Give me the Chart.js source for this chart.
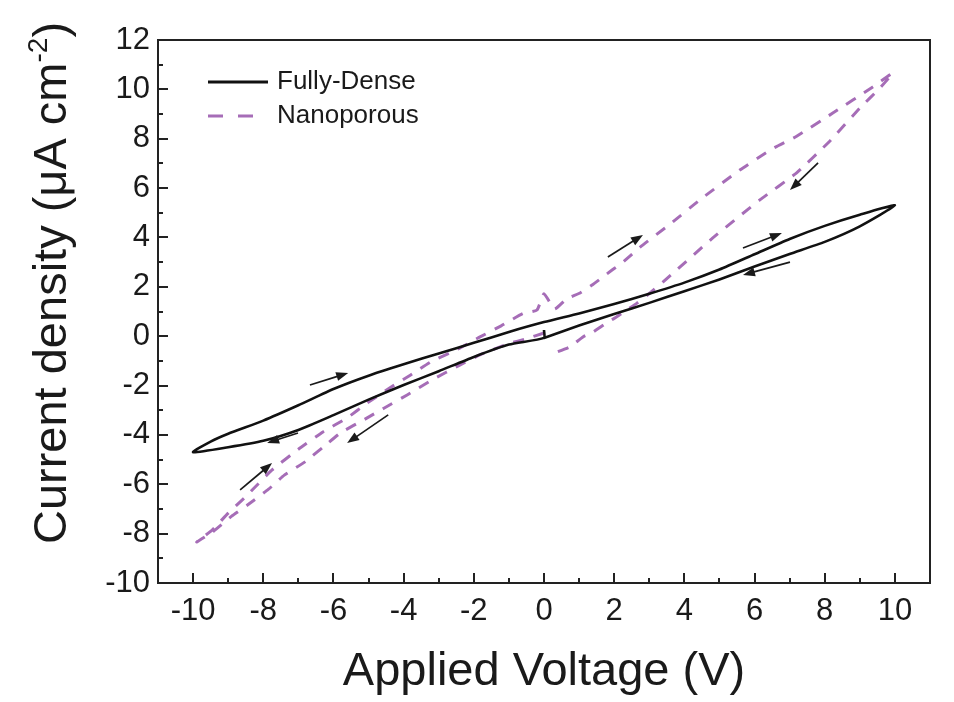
<!DOCTYPE html>
<html>
<head>
<meta charset="utf-8">
<script src="https://cdn.jsdelivr.net/npm/chart.js@4.4.0/dist/chart.umd.min.js"></script>
<style>
    html, body { margin: 0; padding: 0; background: #ffffff; }
    #chart-container { width: 954px; height: 702px; position: relative; }
</style>
</head>
<body>
<div id="chart-container"><canvas id="iv-chart"></canvas></div>
<script>
const xTickValues = [-10, -8, -6, -4, -2, 0, 2, 4, 6, 8, 10];
const yTickValues = [-10, -8, -6, -4, -2, 0, 2, 4, 6, 8, 10, 12];
const xMinorValues = [-9, -7, -5, -3, -1, 1, 3, 5, 7, 9];
const yMinorValues = [-9, -7, -5, -3, -1, 1, 3, 5, 7, 9, 11];

const seriesNames = ['Fully-Dense', 'Nanoporous'];

// Fully-Dense sweep: 0 -> -10 -> 0 -> +10 -> 0
const denseV = [0, 0, -1, -2, -3, -4, -5, -6, -7, -8, -9, -10,
    -9.5, -9, -8, -7, -6, -5, -4, -3, -2, -1, 0,
    1, 2, 3, 4, 5, 6, 7, 8, 9, 10,
    9, 8, 7, 6, 5, 4, 3, 2, 1, 0];
const denseI = [0.25, -0.07, -0.34, -0.84, -1.42, -1.98, -2.57, -3.2, -3.8, -4.24, -4.5, -4.7,
    -4.27, -3.95, -3.42, -2.8, -2.14, -1.6, -1.14, -0.7, -0.27, 0.17, 0.57,
    0.92, 1.3, 1.72, 2.17, 2.7, 3.32, 3.94, 4.47, 4.92, 5.3,
    4.45, 3.82, 3.33, 2.82, 2.3, 1.82, 1.35, 0.9, 0.43, -0.07];

// Nanoporous sweep, same order
const poreV = [0, -0.5, -1, -1.8, -2.4, -3.2, -3.9, -4.55, -5.1, -5.8, -6.3, -6.8, -7.4, -7.85, -8.45, -8.9, -9.45, -9.9,
    -9.45, -9, -8.5, -7.75, -7, -6.3, -5.6, -5.05, -4.4, -3.8, -3.2, -2.5, -1.85, -1.22, -0.6, -0.2, 0, 0.3,
    0.65, 1.03, 1.37, 1.65, 1.94, 2.22, 2.74, 3.6, 4.44, 5.58, 6.52, 7.2, 8.23, 9.37, 9.94,
    9.57, 9, 8.12, 7.2, 6.15, 4.81, 3.5, 3.02, 2.65, 2.36, 2.02, 1.74, 1.4, 1.11, 0.74, 0.3];
const poreI = [0.13, -0.1, -0.3, -0.74, -1.17, -1.78, -2.38, -2.91, -3.36, -3.92, -4.5, -5.08, -5.63, -6.2, -6.84, -7.29, -7.94, -8.34,
    -7.85, -7.17, -6.5, -5.42, -4.58, -3.88, -3.3, -2.72, -2.1, -1.57, -1.02, -0.56, -0.05, 0.42, 0.92, 1.06, 1.72, 1.1,
    1.52, 1.75, 2.07, 2.37, 2.68, 2.96, 3.61, 4.55, 5.52, 6.73, 7.6, 8.1, 9.04, 10.1, 10.66,
    10.05, 9.24, 7.87, 6.62, 5.52, 3.98, 2.33, 1.75, 1.34, 1.06, 0.74, 0.5, 0.17, -0.03, -0.43, -0.68];

// sweep direction arrows, tail -> head
const arrowTailV = [-6.67, -7.01, -8.66, -4.44, 1.82, 5.67, 7.01, 7.81];
const arrowTailI = [-1.98, -3.92, -6.23, -3.19, 3.21, 3.57, 3.0, 7.02];
const arrowHeadV = [-5.58, -7.89, -7.75, -5.61, 2.82, 6.78, 5.67, 7.01];
const arrowHeadI = [-1.49, -4.33, -5.14, -4.33, 4.10, 4.18, 2.48, 5.92];

const FONT = '"Liberation Sans", Arial, sans-serif';
const INK = '#1a1a1a';
const DENSE_COLOR = '#111111';
const PORE_COLOR = '#a66db7';

function toPoints(xs, ys) {
    return xs.map((v, i) => ({x: v, y: ys[i]}));
}

function drawArrow(ctx, x0, y0, x1, y1) {
    const ang = Math.atan2(y1 - y0, x1 - x0);
    const len = 12, half = 4.5;
    ctx.beginPath();
    ctx.moveTo(x0, y0);
    ctx.lineTo(x1 - Math.cos(ang) * len * 0.8, y1 - Math.sin(ang) * len * 0.8);
    ctx.stroke();
    ctx.beginPath();
    ctx.moveTo(x1, y1);
    ctx.lineTo(x1 - Math.cos(ang) * len - Math.sin(ang) * half, y1 - Math.sin(ang) * len + Math.cos(ang) * half);
    ctx.lineTo(x1 - Math.cos(ang) * len + Math.sin(ang) * half, y1 - Math.sin(ang) * len - Math.cos(ang) * half);
    ctx.closePath();
    ctx.fill();
}

const decorations = {
    id: 'decorations',
    afterDatasetsDraw(chart) {
        const {ctx, chartArea: {left, right, top, bottom}, scales: {x, y}} = chart;

        ctx.save();
        ctx.strokeStyle = '#222222';
        ctx.lineWidth = 2;
        ctx.strokeRect(left, top, right - left, bottom - top);

        ctx.beginPath();
        xTickValues.forEach(v => {
            const px = Math.round(x.getPixelForValue(v));
            ctx.moveTo(px, bottom);
            ctx.lineTo(px, bottom - 10);
        });
        xMinorValues.forEach(v => {
            const px = Math.round(x.getPixelForValue(v));
            ctx.moveTo(px, bottom);
            ctx.lineTo(px, bottom - 5);
        });
        yTickValues.forEach(v => {
            const py = Math.round(y.getPixelForValue(v));
            ctx.moveTo(left, py);
            ctx.lineTo(left + 10, py);
        });
        yMinorValues.forEach(v => {
            const py = Math.round(y.getPixelForValue(v));
            ctx.moveTo(left, py);
            ctx.lineTo(left + 5, py);
        });
        ctx.stroke();

        // direction arrows
        ctx.strokeStyle = INK;
        ctx.fillStyle = INK;
        ctx.lineWidth = 1.7;
        arrowTailV.forEach((v, i) => {
            drawArrow(ctx,
                x.getPixelForValue(v), y.getPixelForValue(arrowTailI[i]),
                x.getPixelForValue(arrowHeadV[i]), y.getPixelForValue(arrowHeadI[i]));
        });

        // legend
        ctx.lineWidth = 3;
        ctx.strokeStyle = DENSE_COLOR;
        ctx.beginPath();
        ctx.moveTo(208, 82);
        ctx.lineTo(268, 82);
        ctx.stroke();
        ctx.strokeStyle = PORE_COLOR;
        ctx.setLineDash([15, 15]);
        ctx.beginPath();
        ctx.moveTo(208, 116);
        ctx.lineTo(268, 116);
        ctx.stroke();
        ctx.setLineDash([]);
        ctx.fillStyle = INK;
        ctx.font = '26px ' + FONT;
        ctx.textAlign = 'left';
        ctx.textBaseline = 'middle';
        ctx.fillText(seriesNames[0], 277, 82);
        ctx.fillText(seriesNames[1], 277, 116);

        // x title
        ctx.font = '47px ' + FONT;
        ctx.textAlign = 'center';
        ctx.textBaseline = 'alphabetic';
        ctx.fillText('Applied Voltage (V)', 544, 685);

        // y title with superscript
        const main = 'Current density (\u03BCA cm';
        ctx.font = '47px ' + FONT;
        const w1 = ctx.measureText(main).width;
        const w3 = ctx.measureText(')').width;
        ctx.font = '28px ' + FONT;
        const w2 = ctx.measureText('-2').width;
        const total = w1 + w2 + w3;
        ctx.translate(66, 283);
        ctx.rotate(-Math.PI / 2);
        ctx.textAlign = 'left';
        ctx.font = '47px ' + FONT;
        ctx.fillText(main, -total / 2, 0);
        ctx.font = '28px ' + FONT;
        ctx.fillText('-2', -total / 2 + w1, -19);
        ctx.font = '47px ' + FONT;
        ctx.fillText(')', -total / 2 + w1 + w2, 0);
        ctx.restore();
    }
};

const config = {
    type: 'scatter',
    data: {
        datasets: [
            {
                label: seriesNames[0],
                data: toPoints(denseV, denseI),
                showLine: true,
                borderColor: DENSE_COLOR,
                borderWidth: 2.6,
                pointRadius: 0,
                tension: 0.2,
                order: 1
            },
            {
                label: seriesNames[1],
                data: toPoints(poreV, poreI),
                showLine: true,
                borderColor: PORE_COLOR,
                borderWidth: 3,
                borderDash: [11, 10],
                pointRadius: 0,
                tension: 0.15,
                order: 2
            }
        ]
    },
    options: {
        responsive: true,
        maintainAspectRatio: false,
        animation: false,
        layout: {padding: {top: 40, right: 24, left: 0, bottom: 0}},
        plugins: {
            legend: {display: false},
            tooltip: {enabled: false}
        },
        scales: {
            x: {
                type: 'linear',
                min: -11,
                max: 11,
                afterFit(scale) { scale.height = 119; },
                afterBuildTicks(scale) { scale.ticks = xTickValues.map(v => ({value: v})); },
                grid: {display: false, drawTicks: false},
                border: {display: false},
                ticks: {
                    color: INK,
                    padding: 10,
                    font: {family: FONT, size: 31}
                }
            },
            y: {
                type: 'linear',
                min: -10,
                max: 12,
                afterFit(scale) { scale.width = 158; },
                afterBuildTicks(scale) { scale.ticks = yTickValues.map(v => ({value: v})); },
                grid: {display: false, drawTicks: false},
                border: {display: false},
                ticks: {
                    color: INK,
                    padding: 8,
                    font: {family: FONT, size: 31}
                }
            }
        }
    },
    plugins: [decorations]
};

new Chart(document.getElementById('iv-chart').getContext('2d'), config);
</script>
</body>
</html>
